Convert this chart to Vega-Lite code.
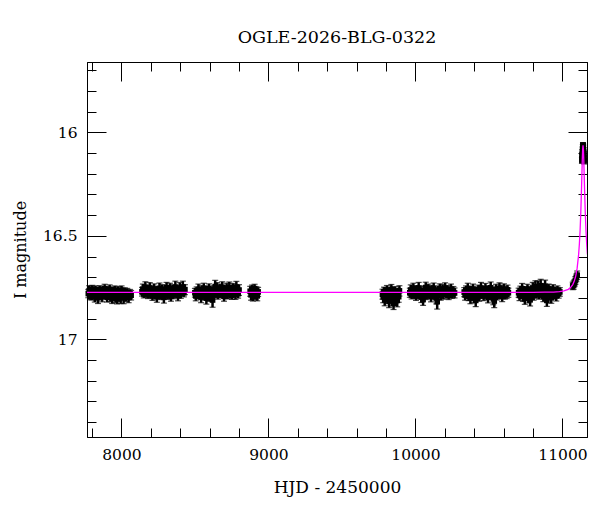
{
"$schema": "https://vega.github.io/schema/vega-lite/v6.json",
"width": 500, "height": 375,
"autosize": {"type": "none"},
"padding": {"left": 87, "top": 62, "right": 13, "bottom": 75},
"background": "white",
"title": {"text": "OGLE-2026-BLG-0322", "font": "DejaVu Serif", "fontSize": 17.5, "fontWeight": "normal", "color": "black", "anchor": "middle", "offset": 15},
"datasets": {
"obs": [
{"t":7775,"m":16.779,"e":0.020},{"t":7781,"m":16.765,"e":0.024},{"t":7786,"m":16.790,"e":0.018},{"t":7790,"m":16.770,"e":0.021},{"t":7797,"m":16.784,"e":0.026},{"t":7802,"m":16.758,"e":0.019},{"t":7808,"m":16.781,"e":0.022},{"t":7813,"m":16.773,"e":0.017},{"t":7819,"m":16.795,"e":0.025},{"t":7824,"m":16.762,"e":0.020},{"t":7830,"m":16.787,"e":0.023},{"t":7836,"m":16.768,"e":0.018},{"t":7841,"m":16.799,"e":0.028},{"t":7847,"m":16.776,"e":0.021},{"t":7852,"m":16.760,"e":0.019},{"t":7858,"m":16.783,"e":0.024},{"t":7864,"m":16.771,"e":0.020},{"t":7869,"m":16.792,"e":0.027},{"t":7875,"m":16.764,"e":0.018},{"t":7880,"m":16.780,"e":0.022},{"t":7886,"m":16.755,"e":0.021},{"t":7892,"m":16.786,"e":0.019},{"t":7897,"m":16.774,"e":0.025},{"t":7903,"m":16.797,"e":0.023},{"t":7909,"m":16.766,"e":0.020},{"t":7914,"m":16.782,"e":0.018},{"t":7920,"m":16.759,"e":0.022},{"t":7926,"m":16.788,"e":0.030},{"t":7931,"m":16.775,"e":0.019},{"t":7937,"m":16.801,"e":0.026},{"t":7943,"m":16.769,"e":0.021},{"t":7948,"m":16.785,"e":0.024},{"t":7954,"m":16.762,"e":0.020},{"t":7960,"m":16.793,"e":0.029},{"t":7966,"m":16.777,"e":0.018},{"t":7971,"m":16.804,"e":0.025},{"t":7977,"m":16.767,"e":0.022},{"t":7983,"m":16.789,"e":0.027},{"t":7989,"m":16.772,"e":0.020},{"t":7995,"m":16.796,"e":0.031},{"t":8001,"m":16.763,"e":0.021},{"t":8008,"m":16.784,"e":0.024},{"t":8015,"m":16.800,"e":0.028},{"t":8023,"m":16.770,"e":0.019},{"t":8031,"m":16.791,"e":0.026},{"t":8040,"m":16.776,"e":0.022},{"t":8049,"m":16.798,"e":0.025},{"t":8058,"m":16.780,"e":0.021},{"t":8066,"m":16.787,"e":0.023},
{"t":8140,"m":16.770,"e":0.021},{"t":8146,"m":16.758,"e":0.025},{"t":8152,"m":16.781,"e":0.019},{"t":8157,"m":16.764,"e":0.022},{"t":8163,"m":16.749,"e":0.027},{"t":8169,"m":16.776,"e":0.020},{"t":8175,"m":16.761,"e":0.023},{"t":8181,"m":16.785,"e":0.018},{"t":8187,"m":16.768,"e":0.021},{"t":8193,"m":16.752,"e":0.026},{"t":8199,"m":16.779,"e":0.020},{"t":8205,"m":16.766,"e":0.024},{"t":8211,"m":16.790,"e":0.022},{"t":8217,"m":16.773,"e":0.019},{"t":8223,"m":16.757,"e":0.025},{"t":8229,"m":16.783,"e":0.021},{"t":8235,"m":16.769,"e":0.020},{"t":8241,"m":16.794,"e":0.027},{"t":8247,"m":16.762,"e":0.018},{"t":8253,"m":16.778,"e":0.023},{"t":8259,"m":16.754,"e":0.026},{"t":8265,"m":16.787,"e":0.021},{"t":8271,"m":16.771,"e":0.019},{"t":8277,"m":16.760,"e":0.024},{"t":8283,"m":16.781,"e":0.020},{"t":8289,"m":16.797,"e":0.028},{"t":8295,"m":16.765,"e":0.022},{"t":8301,"m":16.774,"e":0.019},{"t":8307,"m":16.750,"e":0.025},{"t":8313,"m":16.786,"e":0.021},{"t":8319,"m":16.763,"e":0.023},{"t":8325,"m":16.779,"e":0.020},{"t":8331,"m":16.756,"e":0.027},{"t":8337,"m":16.792,"e":0.024},{"t":8343,"m":16.770,"e":0.018},{"t":8349,"m":16.759,"e":0.022},{"t":8355,"m":16.783,"e":0.021},{"t":8361,"m":16.766,"e":0.026},{"t":8367,"m":16.748,"e":0.029},{"t":8373,"m":16.777,"e":0.020},{"t":8379,"m":16.762,"e":0.023},{"t":8385,"m":16.789,"e":0.025},{"t":8391,"m":16.768,"e":0.019},{"t":8397,"m":16.753,"e":0.027},{"t":8404,"m":16.780,"e":0.022},{"t":8411,"m":16.764,"e":0.021},{"t":8418,"m":16.747,"e":0.028},{"t":8425,"m":16.775,"e":0.020},{"t":8432,"m":16.760,"e":0.024},
{"t":8500,"m":16.775,"e":0.021},{"t":8506,"m":16.790,"e":0.024},{"t":8512,"m":16.766,"e":0.019},{"t":8518,"m":16.781,"e":0.022},{"t":8524,"m":16.759,"e":0.026},{"t":8530,"m":16.785,"e":0.020},{"t":8536,"m":16.770,"e":0.023},{"t":8542,"m":16.796,"e":0.027},{"t":8548,"m":16.762,"e":0.021},{"t":8554,"m":16.777,"e":0.019},{"t":8560,"m":16.754,"e":0.025},{"t":8566,"m":16.788,"e":0.022},{"t":8572,"m":16.772,"e":0.020},{"t":8578,"m":16.801,"e":0.029},{"t":8584,"m":16.765,"e":0.023},{"t":8590,"m":16.780,"e":0.021},{"t":8596,"m":16.756,"e":0.024},{"t":8602,"m":16.791,"e":0.026},{"t":8608,"m":16.769,"e":0.019},{"t":8614,"m":16.783,"e":0.022},{"t":8620,"m":16.810,"e":0.035},{"t":8626,"m":16.761,"e":0.020},{"t":8632,"m":16.776,"e":0.023},{"t":8638,"m":16.745,"e":0.030},{"t":8644,"m":16.771,"e":0.021},{"t":8650,"m":16.752,"e":0.026},{"t":8656,"m":16.786,"e":0.020},{"t":8662,"m":16.767,"e":0.022},{"t":8668,"m":16.758,"e":0.025},{"t":8674,"m":16.780,"e":0.019},{"t":8680,"m":16.764,"e":0.023},{"t":8686,"m":16.749,"e":0.027},{"t":8692,"m":16.775,"e":0.021},{"t":8698,"m":16.792,"e":0.024},{"t":8704,"m":16.760,"e":0.020},{"t":8710,"m":16.778,"e":0.022},{"t":8716,"m":16.755,"e":0.026},{"t":8722,"m":16.784,"e":0.021},{"t":8728,"m":16.768,"e":0.019},{"t":8734,"m":16.751,"e":0.028},{"t":8740,"m":16.779,"e":0.022},{"t":8746,"m":16.763,"e":0.024},{"t":8752,"m":16.787,"e":0.020},{"t":8758,"m":16.757,"e":0.027},{"t":8764,"m":16.773,"e":0.021},{"t":8770,"m":16.760,"e":0.023},{"t":8776,"m":16.782,"e":0.025},{"t":8782,"m":16.748,"e":0.028},{"t":8788,"m":16.769,"e":0.020},{"t":8794,"m":16.779,"e":0.022},{"t":8800,"m":16.762,"e":0.026},
{"t":8876,"m":16.768,"e":0.024},{"t":8882,"m":16.785,"e":0.026},{"t":8888,"m":16.760,"e":0.022},{"t":8894,"m":16.792,"e":0.023},{"t":8900,"m":16.774,"e":0.025},{"t":8906,"m":16.755,"e":0.021},{"t":8912,"m":16.781,"e":0.027},{"t":8918,"m":16.766,"e":0.020},{"t":8924,"m":16.790,"e":0.024},{"t":8930,"m":16.771,"e":0.022},
{"t":9776,"m":16.782,"e":0.024},{"t":9781,"m":16.795,"e":0.028},{"t":9786,"m":16.770,"e":0.022},{"t":9791,"m":16.808,"e":0.030},{"t":9796,"m":16.776,"e":0.025},{"t":9801,"m":16.790,"e":0.027},{"t":9806,"m":16.763,"e":0.023},{"t":9811,"m":16.799,"e":0.029},{"t":9816,"m":16.784,"e":0.021},{"t":9821,"m":16.815,"e":0.032},{"t":9826,"m":16.772,"e":0.024},{"t":9831,"m":16.793,"e":0.026},{"t":9836,"m":16.760,"e":0.025},{"t":9841,"m":16.805,"e":0.034},{"t":9846,"m":16.779,"e":0.022},{"t":9851,"m":16.826,"e":0.030},{"t":9856,"m":16.787,"e":0.027},{"t":9861,"m":16.768,"e":0.023},{"t":9866,"m":16.798,"e":0.026},{"t":9871,"m":16.781,"e":0.024},{"t":9876,"m":16.812,"e":0.031},{"t":9881,"m":16.775,"e":0.022},{"t":9886,"m":16.794,"e":0.027},{"t":9891,"m":16.766,"e":0.025},
{"t":9962,"m":16.775,"e":0.022},{"t":9968,"m":16.762,"e":0.025},{"t":9974,"m":16.785,"e":0.020},{"t":9980,"m":16.770,"e":0.023},{"t":9986,"m":16.755,"e":0.026},{"t":9992,"m":16.781,"e":0.021},{"t":9998,"m":16.767,"e":0.024},{"t":10004,"m":16.790,"e":0.022},{"t":10010,"m":16.760,"e":0.019},{"t":10016,"m":16.776,"e":0.025},{"t":10022,"m":16.752,"e":0.027},{"t":10028,"m":16.784,"e":0.021},{"t":10034,"m":16.769,"e":0.023},{"t":10040,"m":16.796,"e":0.026},{"t":10046,"m":16.773,"e":0.020},{"t":10052,"m":16.808,"e":0.028},{"t":10058,"m":16.764,"e":0.022},{"t":10064,"m":16.779,"e":0.024},{"t":10070,"m":16.750,"e":0.026},{"t":10076,"m":16.787,"e":0.021},{"t":10082,"m":16.771,"e":0.023},{"t":10088,"m":16.758,"e":0.025},{"t":10094,"m":16.782,"e":0.020},{"t":10100,"m":16.766,"e":0.022},{"t":10106,"m":16.792,"e":0.027},{"t":10112,"m":16.761,"e":0.021},{"t":10118,"m":16.777,"e":0.024},{"t":10124,"m":16.754,"e":0.026},{"t":10130,"m":16.786,"e":0.022},{"t":10136,"m":16.770,"e":0.020},{"t":10142,"m":16.800,"e":0.029},{"t":10148,"m":16.818,"e":0.036},{"t":10154,"m":16.765,"e":0.023},{"t":10160,"m":16.780,"e":0.021},{"t":10166,"m":16.757,"e":0.025},{"t":10172,"m":16.789,"e":0.022},{"t":10178,"m":16.772,"e":0.020},{"t":10184,"m":16.760,"e":0.024},{"t":10190,"m":16.783,"e":0.023},{"t":10196,"m":16.768,"e":0.021},{"t":10202,"m":16.753,"e":0.026},{"t":10210,"m":16.779,"e":0.022},{"t":10218,"m":16.764,"e":0.024},{"t":10226,"m":16.788,"e":0.020},{"t":10234,"m":16.770,"e":0.023},{"t":10242,"m":16.758,"e":0.025},{"t":10250,"m":16.781,"e":0.021},{"t":10258,"m":16.767,"e":0.022},{"t":10266,"m":16.776,"e":0.024},
{"t":10332,"m":16.772,"e":0.022},{"t":10338,"m":16.786,"e":0.025},{"t":10344,"m":16.763,"e":0.021},{"t":10350,"m":16.779,"e":0.023},{"t":10356,"m":16.755,"e":0.026},{"t":10362,"m":16.791,"e":0.022},{"t":10368,"m":16.770,"e":0.020},{"t":10374,"m":16.801,"e":0.027},{"t":10380,"m":16.766,"e":0.023},{"t":10386,"m":16.783,"e":0.021},{"t":10392,"m":16.758,"e":0.025},{"t":10398,"m":16.795,"e":0.028},{"t":10404,"m":16.775,"e":0.022},{"t":10410,"m":16.812,"e":0.030},{"t":10416,"m":16.768,"e":0.021},{"t":10422,"m":16.784,"e":0.024},{"t":10428,"m":16.760,"e":0.022},{"t":10434,"m":16.790,"e":0.026},{"t":10440,"m":16.773,"e":0.020},{"t":10446,"m":16.752,"e":0.027},{"t":10452,"m":16.780,"e":0.023},{"t":10458,"m":16.765,"e":0.021},{"t":10464,"m":16.788,"e":0.025},{"t":10470,"m":16.771,"e":0.022},{"t":10476,"m":16.756,"e":0.026},{"t":10482,"m":16.782,"e":0.020},{"t":10488,"m":16.767,"e":0.023},{"t":10494,"m":16.797,"e":0.027},{"t":10500,"m":16.762,"e":0.021},{"t":10506,"m":16.778,"e":0.024},{"t":10512,"m":16.751,"e":0.028},{"t":10518,"m":16.785,"e":0.022},{"t":10524,"m":16.769,"e":0.020},{"t":10530,"m":16.804,"e":0.029},{"t":10536,"m":16.815,"e":0.032},{"t":10542,"m":16.774,"e":0.021},{"t":10548,"m":16.759,"e":0.025},{"t":10554,"m":16.787,"e":0.023},{"t":10560,"m":16.766,"e":0.022},{"t":10566,"m":16.781,"e":0.024},{"t":10572,"m":16.754,"e":0.027},{"t":10578,"m":16.776,"e":0.021},{"t":10584,"m":16.763,"e":0.023},{"t":10590,"m":16.792,"e":0.026},{"t":10596,"m":16.770,"e":0.020},{"t":10602,"m":16.757,"e":0.025},{"t":10608,"m":16.784,"e":0.022},{"t":10614,"m":16.768,"e":0.021},{"t":10620,"m":16.779,"e":0.024},{"t":10626,"m":16.761,"e":0.023},{"t":10632,"m":16.775,"e":0.022},
{"t":10702,"m":16.775,"e":0.022},{"t":10708,"m":16.788,"e":0.025},{"t":10714,"m":16.764,"e":0.021},{"t":10720,"m":16.780,"e":0.023},{"t":10726,"m":16.756,"e":0.026},{"t":10732,"m":16.793,"e":0.024},{"t":10738,"m":16.771,"e":0.020},{"t":10744,"m":16.803,"e":0.028},{"t":10750,"m":16.767,"e":0.022},{"t":10756,"m":16.784,"e":0.021},{"t":10762,"m":16.759,"e":0.025},{"t":10768,"m":16.797,"e":0.027},{"t":10774,"m":16.774,"e":0.022},{"t":10780,"m":16.809,"e":0.030},{"t":10786,"m":16.765,"e":0.021},{"t":10792,"m":16.782,"e":0.024},{"t":10798,"m":16.752,"e":0.027},{"t":10804,"m":16.788,"e":0.023},{"t":10810,"m":16.770,"e":0.020},{"t":10816,"m":16.745,"e":0.028},{"t":10822,"m":16.779,"e":0.022},{"t":10828,"m":16.762,"e":0.024},{"t":10834,"m":16.748,"e":0.030},{"t":10840,"m":16.785,"e":0.021},{"t":10846,"m":16.768,"e":0.023},{"t":10852,"m":16.741,"e":0.031},{"t":10858,"m":16.776,"e":0.022},{"t":10864,"m":16.757,"e":0.026},{"t":10870,"m":16.794,"e":0.024},{"t":10876,"m":16.766,"e":0.021},{"t":10882,"m":16.744,"e":0.030},{"t":10888,"m":16.781,"e":0.023},{"t":10894,"m":16.812,"e":0.029},{"t":10900,"m":16.770,"e":0.022},{"t":10906,"m":16.758,"e":0.025},{"t":10912,"m":16.786,"e":0.021},{"t":10918,"m":16.767,"e":0.023},{"t":10924,"m":16.799,"e":0.027},{"t":10930,"m":16.773,"e":0.020},{"t":10936,"m":16.760,"e":0.024},{"t":10942,"m":16.784,"e":0.022},{"t":10950,"m":16.769,"e":0.021},{"t":10958,"m":16.790,"e":0.025},{"t":10966,"m":16.764,"e":0.022},{"t":10974,"m":16.778,"e":0.023},{"t":10982,"m":16.771,"e":0.021},
{"t":11070,"m":16.742,"e":0.018},{"t":11076,"m":16.738,"e":0.020},{"t":11082,"m":16.728,"e":0.017},{"t":11088,"m":16.716,"e":0.019},{"t":11094,"m":16.703,"e":0.018},{"t":11100,"m":16.690,"e":0.020},
{"t":11132.5,"m":16.135,"e":0.015},{"t":11133.5,"m":16.128,"e":0.014},{"t":11134.5,"m":16.110,"e":0.013},{"t":11135.5,"m":16.118,"e":0.013},{"t":11136.5,"m":16.095,"e":0.012},{"t":11137.5,"m":16.082,"e":0.012},{"t":11138.5,"m":16.070,"e":0.011},{"t":11139.5,"m":16.061,"e":0.011},{"t":11140.5,"m":16.064,"e":0.011},{"t":11141.5,"m":16.072,"e":0.011},{"t":11142.5,"m":16.085,"e":0.012},{"t":11143.5,"m":16.098,"e":0.012},{"t":11144.5,"m":16.115,"e":0.013},{"t":11145.5,"m":16.105,"e":0.013},{"t":11146.5,"m":16.126,"e":0.014},{"t":11147.5,"m":16.138,"e":0.015}
],
"model": [
{"t":7766,"m":16.773},{"t":8500,"m":16.773},{"t":9500,"m":16.773},{"t":10500,"m":16.773},{"t":10800,"m":16.773},{"t":10880,"m":16.7723},{"t":10940,"m":16.7715},{"t":10980,"m":16.7697},{"t":11010,"m":16.7664},{"t":11040,"m":16.7584},{"t":11055,"m":16.7501},{"t":11070,"m":16.7356},{"t":11080,"m":16.7197},{"t":11090,"m":16.6953},{"t":11100,"m":16.656},{"t":11110,"m":16.5903},{"t":11115,"m":16.5407},{"t":11120,"m":16.4738},{"t":11125,"m":16.3831},{"t":11130,"m":16.2641},{"t":11135,"m":16.1316},{"t":11137.5,"m":16.0823},{"t":11140,"m":16.063},{"t":11142.5,"m":16.0823},{"t":11145,"m":16.1316},{"t":11150,"m":16.2641},{"t":11155,"m":16.3831},{"t":11160,"m":16.4738},{"t":11165,"m":16.5407},{"t":11170,"m":16.5903}
]
},
"layer": [
{
"data": {"name": "obs"},
"encoding": {
"x": {"field": "t", "type": "quantitative", "scale": {"domain": [7766, 11167], "nice": false, "zero": false},
"axis": {"orient": "bottom", "values": [7800,8000,8200,8400,8600,8800,9000,9200,9400,9600,9800,10000,10200,10400,10600,10800,11000], "format": "d", "labelExpr": "datum.value % 1000 === 0 ? datum.label : ''", "tickSize": {"condition": {"test": "datum.value % 1000 === 0", "value": -19}, "value": -9}, "labelPadding": 29, "labelOverlap": false, "labelFlush": false, "title": "HJD - 2450000", "titleX": 250, "titleY": 50, "titleBaseline": "middle", "titleAlign": "center", "titleFontSize": 17}},
"y": {"field": "m", "type": "quantitative", "scale": {"domain": [15.66, 17.472], "reverse": true, "nice": false, "zero": false},
"axis": {"orient": "left", "values": [15.7,15.8,15.9,16,16.1,16.2,16.3,16.4,16.5,16.6,16.7,16.8,16.9,17,17.1,17.2,17.3,17.4], "labelExpr": "abs(datum.value*2-round(datum.value*2))<0.01 ? format(datum.value,'~g') : ''", "tickSize": {"condition": {"test": "abs(datum.value*2-round(datum.value*2))<0.01", "value": -19}, "value": -9}, "labelPadding": 29, "labelOverlap": false, "labelFlush": false, "title": "I magnitude", "titleX": -67, "titleY": 187.5, "titleAngle": -90, "titleBaseline": "middle", "titleAlign": "center", "titleFontSize": 16}}
},
"layer": [
{"mark": {"type": "errorbar", "ticks": {"size": 6, "thickness": 1.2}, "color": "black", "thickness": 2.5}, "encoding": {"yError": {"field": "e"}}},
{"mark": {"type": "square", "size": 32, "color": "black", "opacity": 1, "filled": true}}
]
},
{
"data": {"name": "model"},
"mark": {"type": "line", "color": "#ff00ff", "strokeWidth": 1.3, "clip": true},
"encoding": {
"x": {"field": "t", "type": "quantitative", "scale": {"domain": [7766, 11167], "nice": false, "zero": false},
"axis": {"orient": "top", "values": [7800,8000,8200,8400,8600,8800,9000,9200,9400,9600,9800,10000,10200,10400,10600,10800,11000], "labels": false, "tickSize": {"condition": {"test": "datum.value % 1000 === 0", "value": -19}, "value": -9}, "title": null}},
"y": {"field": "m", "type": "quantitative", "scale": {"domain": [15.66, 17.472], "reverse": true, "nice": false, "zero": false},
"axis": {"orient": "right", "values": [15.7,15.8,15.9,16,16.1,16.2,16.3,16.4,16.5,16.6,16.7,16.8,16.9,17,17.1,17.2,17.3,17.4], "labels": false, "tickSize": {"condition": {"test": "abs(datum.value*2-round(datum.value*2))<0.01", "value": -19}, "value": -9}, "title": null}}
}
}
],
"resolve": {"axis": {"x": "independent", "y": "independent"}},
"config": {
"view": {"stroke": "black", "strokeWidth": 1},
"axis": {"domainColor": "black", "domainWidth": 1, "tickColor": "black", "tickWidth": 1, "labelFont": "DejaVu Serif", "labelFontSize": 15.5, "labelColor": "black", "titleFont": "DejaVu Serif", "titleFontWeight": "normal", "titleColor": "black", "grid": false}
}
}
